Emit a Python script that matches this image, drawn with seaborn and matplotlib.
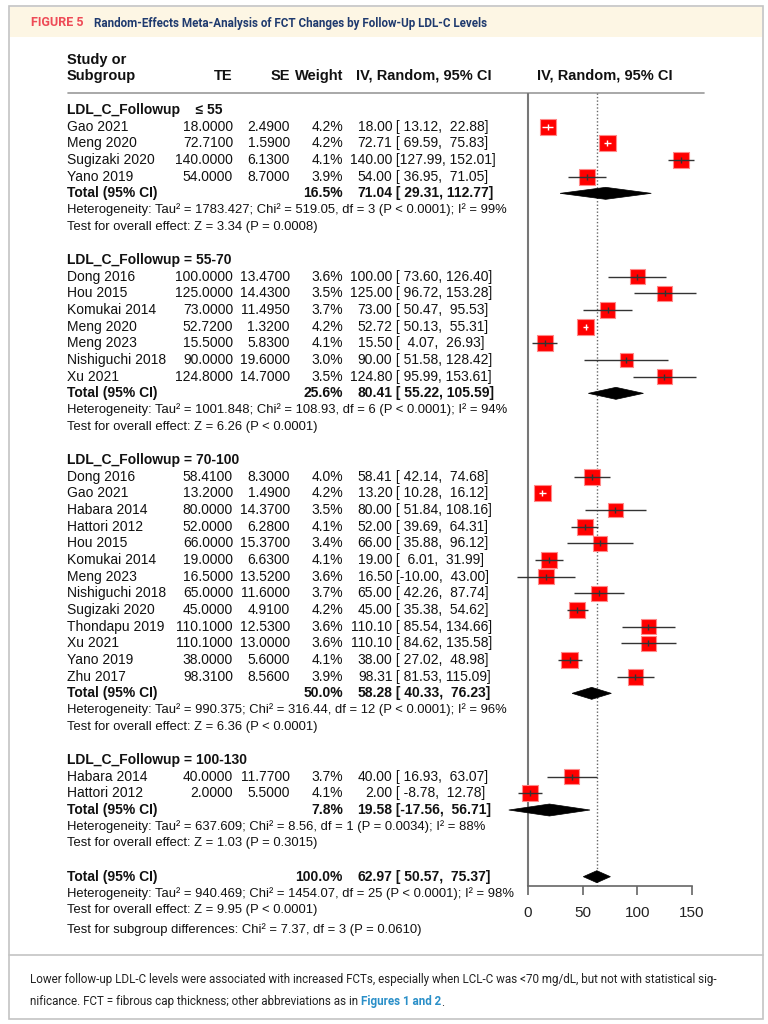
import pandas as pd
import seaborn as sns
from matplotlib import pyplot as plt
from matplotlib.patches import Polygon, Rectangle

W, H = 768, 1024

group_names = ["LDL_C_Followup    \u2264 55", "LDL_C_Followup = 55-70",
               "LDL_C_Followup = 70-100", "LDL_C_Followup = 100-130"]

study = ["Gao 2021", "Meng 2020", "Sugizaki 2020", "Yano 2019",
         "Dong 2016", "Hou 2015", "Komukai 2014", "Meng 2020", "Meng 2023", "Nishiguchi 2018", "Xu 2021",
         "Dong 2016", "Gao 2021", "Habara 2014", "Hattori 2012", "Hou 2015", "Komukai 2014", "Meng 2023",
         "Nishiguchi 2018", "Sugizaki 2020", "Thondapu 2019", "Xu 2021", "Yano 2019", "Zhu 2017",
         "Habara 2014", "Hattori 2012"]
group = [0] * 4 + [1] * 7 + [2] * 13 + [3] * 2
te = [18.0, 72.71, 140.0, 54.0,
      100.0, 125.0, 73.0, 52.72, 15.5, 90.0, 124.8,
      58.41, 13.2, 80.0, 52.0, 66.0, 19.0, 16.5, 65.0, 45.0, 110.1, 110.1, 38.0, 98.31,
      40.0, 2.0]
se = [2.49, 1.59, 6.13, 8.7,
      13.47, 14.43, 11.495, 1.32, 5.83, 19.6, 14.7,
      8.3, 1.49, 14.37, 6.28, 15.37, 6.63, 13.52, 11.6, 4.91, 12.53, 13.0, 5.6, 8.56,
      11.77, 5.5]
weight = [4.2, 4.2, 4.1, 3.9,
          3.6, 3.5, 3.7, 4.2, 4.1, 3.0, 3.5,
          4.0, 4.2, 3.5, 4.1, 3.4, 4.1, 3.6, 3.7, 4.2, 3.6, 3.6, 4.1, 3.9,
          3.7, 4.1]
ci_lo = [13.12, 69.59, 127.99, 36.95,
         73.60, 96.72, 50.47, 50.13, 4.07, 51.58, 95.99,
         42.14, 10.28, 51.84, 39.69, 35.88, 6.01, -10.00, 42.26, 35.38, 85.54, 84.62, 27.02, 81.53,
         16.93, -8.78]
ci_hi = [22.88, 75.83, 152.01, 71.05,
         126.40, 153.28, 95.53, 55.31, 26.93, 128.42, 153.61,
         74.68, 16.12, 108.16, 64.31, 96.12, 31.99, 43.00, 87.74, 54.62, 134.66, 135.58, 48.98, 115.09,
         63.07, 12.78]

total_weight = [16.5, 25.6, 50.0, 7.8]
total_est = [71.04, 80.41, 58.28, 19.58]
total_lo = [29.31, 55.22, 40.33, -17.56]
total_hi = [112.77, 105.59, 76.23, 56.71]
het_text = [
    "Heterogeneity: Tau\u00b2 = 1783.427; Chi\u00b2 = 519.05, df = 3 (P < 0.0001); I\u00b2 = 99%",
    "Heterogeneity: Tau\u00b2 = 1001.848; Chi\u00b2 = 108.93, df = 6 (P < 0.0001); I\u00b2 = 94%",
    "Heterogeneity: Tau\u00b2 = 990.375; Chi\u00b2 = 316.44, df = 12 (P < 0.0001); I\u00b2 = 96%",
    "Heterogeneity: Tau\u00b2 = 637.609; Chi\u00b2 = 8.56, df = 1 (P = 0.0034); I\u00b2 = 88%",
]
test_text = [
    "Test for overall effect: Z = 3.34 (P = 0.0008)",
    "Test for overall effect: Z = 6.26 (P < 0.0001)",
    "Test for overall effect: Z = 6.36 (P < 0.0001)",
    "Test for overall effect: Z = 1.03 (P = 0.3015)",
]
overall_weight = 100.0
overall_est, overall_lo, overall_hi = 62.97, 50.57, 75.37
overall_het = "Heterogeneity: Tau\u00b2 = 940.469; Chi\u00b2 = 1454.07, df = 25 (P < 0.0001); I\u00b2 = 98%"
overall_test = "Test for overall effect: Z = 9.95 (P < 0.0001)"
subgroup_test = "Test for subgroup differences: Chi\u00b2 = 7.37, df = 3 (P = 0.0610)"
x_ticks = [0, 50, 100, 150]

title_tag = "FIGURE 5"
title_text = "Random-Effects Meta-Analysis of FCT Changes by Follow-Up LDL-C Levels"
caption_1 = ("Lower follow-up LDL-C levels were associated with increased FCTs, especially when LCL-C "
             "was <70 mg/dL, but not with statistical sig-")
caption_2 = "nificance. FCT = fibrous cap thickness; other abbreviations as in "
caption_link = "Figures 1 and 2"

sns.set_theme(style="white")
plt.rcParams['font.family'] = ['Liberation Sans', 'DejaVu Sans']

# pixel layout of the forest
ROW0, ROWH = 110, 16.667
PX_PER_UNIT = 1.0933
ZERO_X = 528


def ypx(row):
    return ROW0 + row * ROWH


# row index of each element
study_row, total_row, het_row, test_row, head_row = [], [], [], [], []
r = 0
for g in range(len(group_names)):
    head_row.append(r)
    n = group.count(g)
    study_row += list(range(r + 1, r + 1 + n))
    total_row.append(r + n + 1)
    het_row.append(r + n + 2)
    test_row.append(r + n + 3)
    r += n + 5
overall_row = r

df = pd.DataFrame({"study": study, "group": group, "te": te, "se": se, "weight": weight,
                   "lo": ci_lo, "hi": ci_hi, "row": study_row})

fig = plt.figure(figsize=(W / 100, H / 100), dpi=100)
tx = fig.add_axes([0, 0, 1, 1])
tx.set_xlim(0, W)
tx.set_ylim(H, 0)
tx.axis("off")

# frame, header band and caption separator
tx.add_patch(Rectangle((9, 6), 754, 1013, facecolor="white", edgecolor="#c4c4c4", lw=1.2, zorder=0))
tx.add_patch(Rectangle((10, 7), 752, 30, facecolor="#fdf6e4", edgecolor="none", zorder=1))
tx.plot([9, 763], [955, 955], color="#c4c4c4", lw=1.2, zorder=1)

head_font = ["Roboto", "Liberation Sans"]
tx.text(31, 23, title_tag, color="#ee4b57", fontsize=9, fontweight="bold", va="center", family=head_font)
tx.text(94, 23, title_text, color="#1f3a6e", fontsize=8.4, fontweight="bold", va="center", family=head_font)

# column headers
NAME_X, TE_X, SE_X, W_X, EST_X = 67, 233, 290, 343, 392.5
hdr = dict(fontsize=10.5, fontweight="bold", va="center", color="#111111")
tx.text(NAME_X, 60, "Study or", **hdr)
tx.text(NAME_X, 76, "Subgroup", **hdr)
tx.text(TE_X, 76, "TE", ha="right", **hdr)
tx.text(SE_X, 76, "SE", ha="right", **hdr)
tx.text(W_X, 76, "Weight", ha="right", **hdr)
tx.text(356, 76, "IV, Random, 95% CI", **hdr)
tx.text(605, 76, "IV, Random, 95% CI", ha="center", **hdr)
tx.plot([68, 704], [93, 93], color="#999999", lw=1.2)

body = dict(fontsize=10, va="center", color="#111111")
bold = dict(fontsize=10, va="center", color="#111111", fontweight="bold")
small = dict(fontsize=9.4, va="center", color="#111111")


def ci_text(y, est, lo, hi, style):
    tx.text(EST_X, y, f"{est:.2f}", ha="right", **style)
    tx.text(EST_X, y, f" [{lo:6.2f}, {hi:6.2f}]", ha="left", **style)


for g, name in enumerate(group_names):
    tx.text(NAME_X, ypx(head_row[g]), name, **bold)
    tx.text(NAME_X, ypx(total_row[g]), "Total (95% CI)", **bold)
    tx.text(W_X, ypx(total_row[g]), f"{total_weight[g]:.1f}%", ha="right", **bold)
    ci_text(ypx(total_row[g]), total_est[g], total_lo[g], total_hi[g], bold)
    tx.text(NAME_X, ypx(het_row[g]), het_text[g], **small)
    tx.text(NAME_X, ypx(test_row[g]), test_text[g], **small)

for _, s in df.iterrows():
    y = ypx(s["row"])
    tx.text(NAME_X, y, s["study"], **body)
    tx.text(TE_X, y, f"{s['te']:.4f}", ha="right", **body)
    tx.text(SE_X, y, f"{s['se']:.4f}", ha="right", **body)
    tx.text(W_X, y, f"{s['weight']:.1f}%", ha="right", **body)
    ci_text(y, s["te"], s["lo"], s["hi"], body)

tx.text(NAME_X, ypx(overall_row), "Total (95% CI)", **bold)
tx.text(W_X, ypx(overall_row), f"{overall_weight:.1f}%", ha="right", **bold)
ci_text(ypx(overall_row), overall_est, overall_lo, overall_hi, bold)
tx.text(NAME_X, ypx(overall_row + 1), overall_het, **small)
tx.text(NAME_X, ypx(overall_row + 2), overall_test, **small)
tx.text(NAME_X, ypx(overall_row + 3) + 3, subgroup_test, **small)

# forest panel
left_px, right_px, top_px, bottom_px = 500, 720, 93, 886
ax = fig.add_axes([left_px / W, 1 - bottom_px / H, (right_px - left_px) / W, (bottom_px - top_px) / H])
ax.set_facecolor("none")
ax.set_xlim((left_px - ZERO_X) / PX_PER_UNIT, (right_px - ZERO_X) / PX_PER_UNIT)
ax.set_ylim((bottom_px - ROW0) / ROWH, (top_px - ROW0) / ROWH)

ax.axvline(0, color="#777777", lw=1.5, zorder=1)
ax.axvline(overall_est, color="#666666", lw=1.0, ls=(0, (1, 1.5)), zorder=1)

sns.scatterplot(data=df, x="te", y="row", size="weight", sizes=(98, 138), size_norm=(3.0, 4.2),
                marker="s", color="#ff0000", edgecolor="#ff8a8a", linewidth=0.8, legend=False,
                ax=ax, zorder=3)

for _, s in df.iterrows():
    side_px = 15 * (s["weight"] / 4.2) ** 0.5
    c = "white" if (s["hi"] - s["lo"]) * PX_PER_UNIT < side_px else "#333333"
    ax.hlines(s["row"], s["lo"], s["hi"], color=c, lw=1.0, zorder=4)
    ax.plot(s["te"], s["row"], marker="|", ms=5, mew=1.0, color=c, zorder=5)

DH = 0.36
for est, lo, hi, row in zip(total_est + [overall_est], total_lo + [overall_lo],
                            total_hi + [overall_hi], total_row + [overall_row]):
    ax.add_patch(Polygon([(lo, row), (est, row - DH), (hi, row), (est, row + DH)],
                         closed=True, facecolor="black", edgecolor="black", lw=0.5, zorder=4))

for side in ["top", "right", "left"]:
    ax.spines[side].set_visible(False)
ax.spines["bottom"].set_bounds(x_ticks[0], x_ticks[-1])
ax.spines["bottom"].set_color("#666666")
ax.spines["bottom"].set_linewidth(1.2)
ax.set_xticks(x_ticks)
ax.set_yticks([])
ax.tick_params(axis="x", bottom=True, direction="out", length=6.5, width=1.2, color="#666666",
               pad=8, labelsize=11, labelcolor="#222222")
ax.set_xlabel("")
ax.set_ylabel("")
ax.grid(False)

# caption
cap = dict(fontsize=8.35, va="center", color="#222222", family=head_font)
tx.text(30, 980, caption_1, **cap)
t2 = tx.text(30, 1002, caption_2, **cap)
fig.canvas.draw()
bb = t2.get_window_extent()
link = tx.text(30 + bb.width, 1002, caption_link, color="#2a8fc8", fontweight="bold",
               **{k: v for k, v in cap.items() if k != "color"})
bb2 = link.get_window_extent()
tx.text(30 + bb.width + bb2.width, 1002, ".", **cap)

fig.savefig("out.png", dpi=100)
